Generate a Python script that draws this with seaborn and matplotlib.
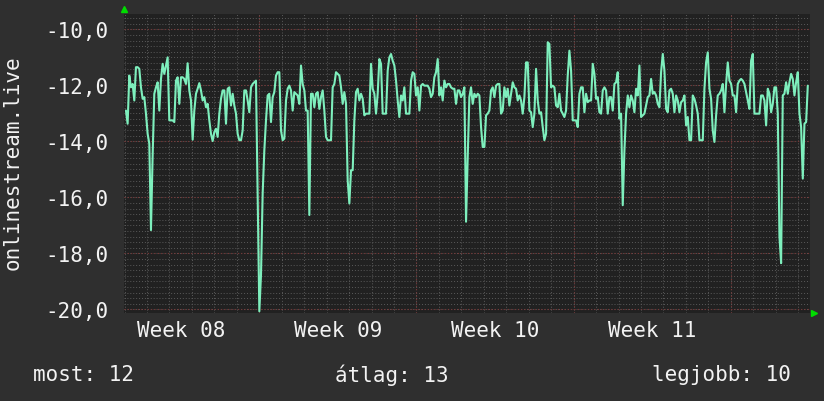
import numpy as np
import pandas as pd
import matplotlib
matplotlib.use('Agg')
import matplotlib.pyplot as plt
import seaborn as sns

# RRD samples, hours relative to the start of week 09
start_hour = -142.5
step_hours = 1.782

seg_week08 = [
    -12.90, -13.37, -11.65, -12.07, -11.95, -12.54, -11.35, -11.35, -11.41, -12.07,
    -12.48, -12.42, -13.01, -13.73, -14.08, -17.17, -14.50, -12.30, -12.07, -11.89,
    -12.90, -11.77, -11.23, -11.59, -11.29, -11.00, -13.25, -13.25, -13.25, -13.31,
    -11.83, -11.71, -12.66, -11.71, -11.71, -11.77, -11.95, -11.21, -12.18, -12.54,
    -13.94, -12.90, -12.30, -12.12, -11.92, -12.18, -12.54, -12.42, -12.78, -12.66,
    -13.25, -13.73, -13.99, -13.67, -13.55, -13.84, -13.01, -12.48, -12.18, -12.18,
    -13.37, -12.12, -12.07, -12.72, -12.30, -12.72, -13.01, -13.73, -13.96, -13.96,
    -13.61, -12.18, -12.18, -12.54, -12.96, -12.07, -11.95, -11.89, -11.83, -16.04,
]
seg_week09 = [
    -20.07, -18.77, -15.86, -14.32, -13.25, -12.36, -12.30, -13.31, -12.42, -12.24,
    -11.65, -11.53, -11.53, -13.61, -13.96, -13.90, -12.54, -12.12, -12.01, -12.18,
    -12.90, -12.24, -12.30, -12.36, -12.66, -11.29, -11.95, -12.18, -12.90, -12.90,
    -16.63, -12.30, -12.30, -12.78, -12.30, -12.24, -12.84, -12.42, -12.18, -12.90,
    -13.84, -13.96, -13.96, -13.96, -12.07, -11.95, -11.53, -11.59, -11.65, -12.07,
    -12.66, -12.24, -12.66, -15.39, -16.22, -15.03, -15.03, -13.25, -12.24, -12.12,
    -12.54, -12.30, -12.48, -13.07, -13.01, -13.01, -13.01, -11.23, -12.12, -12.30,
    -13.01, -12.30, -11.06, -11.23, -13.01, -13.01, -13.01, -11.47, -11.00, -10.88,
    -11.12, -11.29, -11.83, -12.54,
]
seg_week10 = [
    -13.13, -12.36, -12.54, -12.07, -13.01, -13.01, -13.01, -11.83, -11.53, -11.59,
    -12.36, -12.07, -12.90, -12.01, -11.95, -12.01, -12.01, -12.01, -12.12, -12.42,
    -12.30, -11.71, -11.53, -11.06, -12.36, -12.07, -12.54, -11.83, -12.07, -11.95,
    -11.95, -12.07, -12.12, -12.12, -12.66, -12.18, -12.18, -12.42, -12.30, -12.07,
    -16.87, -14.56, -12.42, -12.07, -12.66, -12.30, -12.42, -12.30, -12.36, -13.49,
    -14.20, -14.20, -13.07, -13.01, -12.90, -12.18, -12.07, -12.42, -12.01, -11.95,
    -11.95, -13.01, -12.90, -12.07, -12.42, -12.12, -12.72, -12.30, -11.89, -12.07,
    -12.12, -12.54, -12.36, -12.54, -13.01, -12.42, -11.18, -11.18, -12.90, -12.96,
    -13.49, -13.01,
]
seg_week11 = [
    -11.41, -12.54, -13.01, -12.96, -13.49, -13.96, -13.73, -10.46, -10.52, -12.07,
    -12.01, -12.07, -12.72, -12.78, -12.30, -12.90, -13.01, -13.13, -12.90, -11.65,
    -10.76, -11.47, -13.25, -13.25, -13.25, -13.49, -12.30, -12.07, -12.07, -12.96,
    -12.30, -12.60, -12.54, -12.54, -11.23, -11.59, -12.48, -12.42, -12.96, -13.01,
    -12.18, -12.07, -12.18, -13.01, -12.42, -12.42, -12.90, -11.95, -11.89, -11.53,
    -13.19, -13.01, -16.28, -14.32, -13.01, -12.36, -12.78, -12.36, -12.54, -12.96,
    -12.12, -12.36, -11.29, -13.13, -13.07, -13.01, -12.72, -12.42, -12.36, -11.77,
    -12.30, -12.24, -12.36, -12.66, -12.78, -11.53, -10.88, -11.47, -12.84, -12.96,
    -12.18, -12.12, -12.30,
]
seg_week12 = [
    -12.96, -12.36, -12.54, -12.96, -12.60, -12.54, -12.36, -13.43, -13.13, -13.96,
    -13.96, -12.36, -12.48, -12.72, -13.01, -13.96, -13.96, -13.96, -12.12, -11.18,
    -10.82, -12.12, -12.48, -13.61, -14.02, -13.07, -12.36, -12.30, -12.18, -11.95,
    -12.96, -11.95, -11.18, -11.83, -11.95, -12.36, -12.36, -12.96, -11.95, -11.83,
    -11.77, -11.83, -11.95, -12.24, -12.54, -12.84, -11.12, -10.88, -13.01, -13.01,
    -13.01, -13.01, -12.36, -12.36, -12.54, -13.43, -12.12, -12.30, -12.96, -12.66,
    -12.07, -12.07, -13.01, -17.40, -18.35, -12.36, -12.30, -11.89, -12.30, -11.89,
    -11.59, -11.77, -12.36, -11.89, -11.53, -13.01, -13.49, -15.33, -13.37, -13.31,
    -12.01,
]

week_labels = ['Week 08', 'Week 09', 'Week 10', 'Week 11']
y_ticks = [-20, -18, -16, -14, -12, -10]
summary = {'most': 12, 'átlag': 13, 'legjobb': 10}
y_title = 'onlinestream.live'

values = seg_week08 + seg_week09 + seg_week10 + seg_week11 + seg_week12
hours = start_hour + step_hours * np.arange(len(values))
df = pd.DataFrame({'hour': hours, 'value': values})

BG = '#2f2f2f'
PLOT_BG = '#212121'
LINE = '#7eefbd'
GRID = '#5a5a5a'
MAJOR = '#7a3434'
TEXT = '#f2f2f2'
ARROW = '#00dd00'
FS = 15

sns.set_theme(style='dark')
plt.rcParams['font.family'] = ['DejaVu Sans Mono', 'DejaVu Sans']

W, H = 824, 402
fig = plt.figure(figsize=(W / 100, H / 100), dpi=100, facecolor=BG)
ax = fig.add_axes([124 / W, 1 - 314 / H, 686 / W, (314 - 14.7) / H])
ax.set_facecolor(PLOT_BG)

x_min, x_max = -144.6, 588.7
y_min, y_max = -20.13, -9.44

# background grid, rrdtool style
for y in np.arange(-20, -9.4, 0.2):
    ax.axhline(y, color=GRID, lw=0.7, ls=(0, (1, 2)), zorder=1)
for h in np.arange(-144, 589, 24):
    ax.axvline(h, color=GRID, lw=0.7, ls=(0, (1, 2)), zorder=1)
for y in y_ticks:
    ax.axhline(y, color=MAJOR, lw=0.8, ls=(0, (1, 2)), zorder=1.5)
for h in range(0, 589, 168):
    ax.axvline(h, color=MAJOR, lw=0.8, ls=(0, (1, 2)), zorder=1.5)

sns.lineplot(data=df, x='hour', y='value', ax=ax, color=LINE, lw=1.5, zorder=3)

ax.set_xlim(x_min, x_max)
ax.set_ylim(y_min, y_max)
ax.set_xticks([-84 + 168 * i for i in range(len(week_labels))], week_labels)
ax.set_yticks(y_ticks, [f'{v:.1f}'.replace('.', ',') for v in y_ticks])
ax.tick_params(length=0, labelcolor=TEXT, labelsize=FS)
ax.tick_params(axis='y', pad=11)
ax.tick_params(axis='x', pad=5)
ax.set_xlabel('')
ax.set_ylabel('')
ax.grid(False)
for s in ax.spines.values():
    s.set_visible(False)

# green axis arrows
ax.plot([0], [1.015], marker='^', ms=5, color=ARROW, transform=ax.transAxes, clip_on=False)
ax.plot([1.006], [0], marker='>', ms=5, color=ARROW, transform=ax.transAxes, clip_on=False)

fig.text(13 / W, 1 - 163 / H, y_title, rotation=90, color=TEXT, fontsize=FS,
         ha='center', va='center')

keys = list(summary)
fig.text(33 / W, 1 - 375 / H, f'{keys[0]}: {summary[keys[0]]}', color=TEXT, fontsize=FS,
         ha='left', va='center')
fig.text(392 / W, 1 - 375 / H, f'{keys[1]}: {summary[keys[1]]}', color=TEXT, fontsize=FS,
         ha='center', va='center')
fig.text(791 / W, 1 - 375 / H, f'{keys[2]}: {summary[keys[2]]}', color=TEXT, fontsize=FS,
         ha='right', va='center')

fig.savefig('out.png', dpi=100, facecolor=BG)
